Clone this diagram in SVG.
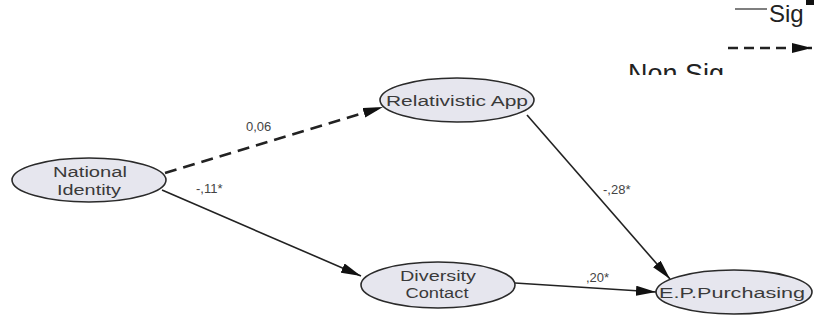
<svg xmlns="http://www.w3.org/2000/svg" width="814" height="322" viewBox="0 0 814 322">
<style>
.node ellipse{fill:#e6e6ee;stroke:#2a2a2a;stroke-width:1.6}
.nt{font-family:"Liberation Sans",Arial,sans-serif;font-size:14px;fill:#3a3a3a;text-anchor:middle}
.lbl{font-family:"Liberation Sans",Arial,sans-serif;font-size:13px;fill:#444}
.edge{stroke:#222;stroke-width:1.6;fill:none}
.dash{stroke-dasharray:12 7;stroke-width:2.6}
.leg{font-family:"Liberation Sans",Arial,sans-serif;font-size:27px;fill:#222}
</style>
<defs>
<marker id="arr" viewBox="0 0 20 10" refX="20" refY="5" markerWidth="20" markerHeight="10" markerUnits="userSpaceOnUse" orient="auto">
<path d="M0,0 L20,5 L0,10 Z" fill="#111"/>
</marker>
<clipPath id="nsclip"><rect x="600" y="55" width="200" height="20"/></clipPath>
</defs>
<rect width="814" height="322" fill="#fff"/>
<g id="legend">
<line x1="735" y1="9" x2="767" y2="9" stroke="#555" stroke-width="1.5"/>
<text class="leg" x="769" y="22" style="font-size:24px">Sig</text>
<rect x="806" y="0" width="8" height="5" fill="#111"/>
<line x1="728" y1="48" x2="812" y2="48" stroke="#222" stroke-width="2.6" stroke-dasharray="10 6" marker-end="url(#arr)"/>
<text class="leg" x="628" y="83" clip-path="url(#nsclip)">Non Sig</text>
</g>
<g id="connectors">
<line class="edge dash" x1="165" y1="173" x2="383" y2="107" marker-end="url(#arr)"/>
<line class="edge" x1="162" y1="190" x2="361" y2="276" marker-end="url(#arr)"/>
<line class="edge" x1="527" y1="115" x2="670" y2="279" marker-end="url(#arr)"/>
<line class="edge" x1="515" y1="283" x2="656" y2="292" marker-end="url(#arr)"/>
<text class="lbl" x="246" y="131">0,06</text>
<text class="lbl" x="196" y="193">-,11*</text>
<text class="lbl" x="603" y="194">-,28*</text>
<text class="lbl" x="586" y="282">,20*</text>
</g>
<g id="national-identity" class="node">
<ellipse cx="89" cy="180" rx="77" ry="22"/>
<text class="nt" x="90" y="177" textLength="74" lengthAdjust="spacingAndGlyphs">National</text>
<text class="nt" x="89" y="195" textLength="64" lengthAdjust="spacingAndGlyphs">Identity</text>
</g>
<g id="relativistic-app" class="node">
<ellipse cx="457" cy="100" rx="77" ry="22"/>
<text class="nt" x="457" y="106" textLength="142" lengthAdjust="spacingAndGlyphs">Relativistic App</text>
</g>
<g id="diversity-contact" class="node">
<ellipse cx="438" cy="285" rx="77" ry="23"/>
<text class="nt" x="438" y="281" textLength="76" lengthAdjust="spacingAndGlyphs">Diversity</text>
<text class="nt" x="437" y="298" textLength="63" lengthAdjust="spacingAndGlyphs">Contact</text>
</g>
<g id="ep-purchasing" class="node">
<ellipse cx="734" cy="292" rx="78" ry="22"/>
<text class="nt" x="732" y="298" textLength="146" lengthAdjust="spacingAndGlyphs">E.P.Purchasing</text>
</g>
</svg>
